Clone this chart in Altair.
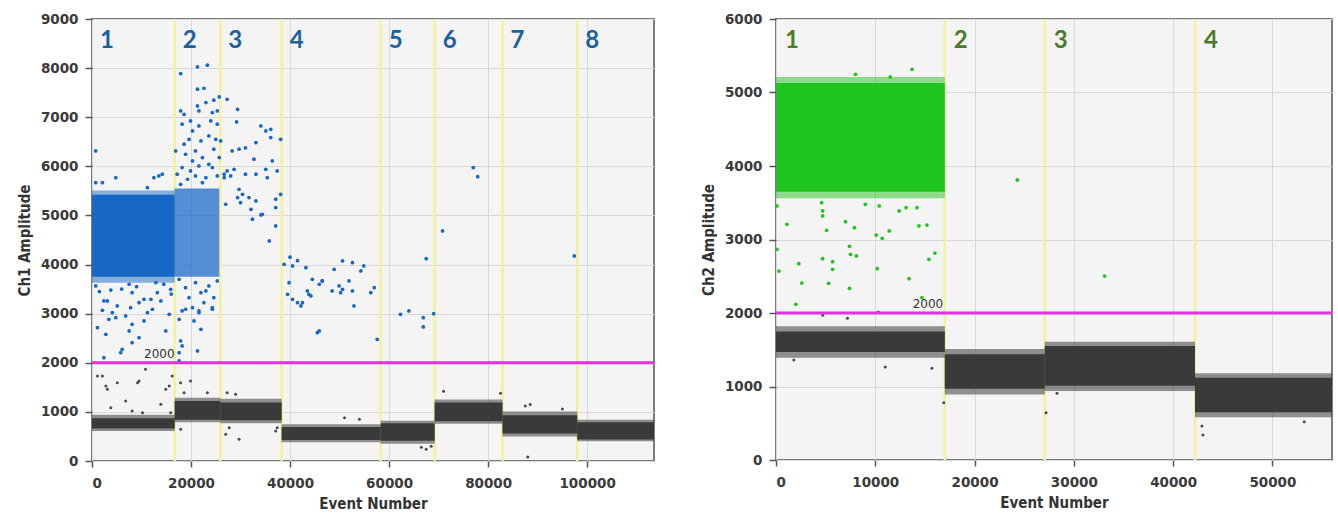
import altair as alt
import pandas as pd

# ---------------- Ch1 (left panel) ----------------
ch1_bounds = [0, 16700, 25900, 38300, 58300, 69200, 82900, 98000, 113500]
ch1_wells = ["1", "2", "3", "4", "5", "6", "7", "8"]
# negative (grey) droplet bands: dense core and ragged fringe (amplitude)
ch1_neg_lo = [660, 840, 830, 430, 410, 810, 560, 440]
ch1_neg_hi = [870, 1220, 1190, 690, 770, 1190, 930, 790]
ch1_neg_flo = [610, 790, 770, 380, 350, 760, 500, 400]
ch1_neg_fhi = [940, 1290, 1270, 750, 820, 1250, 1010, 840]
# positive (blue) dense clouds: solid cloud of well 1, looser cloud of well 2
ch1_solid_x0 = [0]
ch1_solid_x1 = [16700]
ch1_solid_lo = [3750]
ch1_solid_hi = [5420]
ch1_solid_flo = [3630]
ch1_solid_fhi = [5510]
ch1_loose_x0 = [16700]
ch1_loose_x1 = [25700]
ch1_loose_lo = [3750]
ch1_loose_hi = [5550]
# scattered blue droplets (event, amplitude)
ch1_blue_x = [
    750, 750, 2100, 4800, 12500, 13500, 14200, 11200,
    750, 2400, 2100, 3100, 4100, 5100, 3400, 2800, 7500, 8100, 7800, 8100, 9500, 10500,
    11200, 10500, 13200, 13900, 12900, 15900, 15600, 14900, 7500, 8100, 6100, 9500, 2400,
    1100, 5800, 11900, 4800, 6800, 12200, 1500, 6000, 9000, 14500, 16000, 3800,
    17900, 21300, 23300, 21300, 22600, 25700, 24600, 17900, 18600, 21300, 23000, 24300,
    25300, 21600, 18200, 19900, 21600, 24000, 25300, 20300, 22000, 23600, 25000, 19600,
    18600, 20900, 24600, 26000, 16900, 18900, 20300, 22300, 23600, 25700, 18200, 19900,
    21600, 24300, 17200, 19300, 20900, 23000, 25300, 17900, 22300,
    17600, 18900, 19600, 20900, 22000, 22600, 23600, 24600, 24300, 25300, 20300, 21600,
    18200, 17600, 18900, 20600, 22000, 17900, 18200, 21300, 17600, 17600, 21600, 24300, 23000,
    27300, 29400, 29200, 34100, 35100, 36100, 36100, 38100, 33100, 28300, 29700, 31000,
    32700, 36400, 27300, 28700, 31000, 33100, 35100, 35400, 37400, 26700, 28000, 29700,
    30400, 29400, 31700, 33100, 30000, 27000, 32100, 34400, 37100, 38100, 37100, 32400,
    34100, 37100, 35800, 26700,
    38800, 40500, 43200, 44500, 45900, 46500, 39500, 40500, 41500, 42200, 43500, 44200,
    45500, 39800, 42500, 43800, 46500, 48500, 48900, 49900, 50200, 50600, 51900, 52600,
    52900, 54300, 54900, 56300, 57000, 45900, 52600, 50600, 57600, 40000, 41500,
    62300, 64000, 66900, 66900, 69000, 70800, 67500, 77000, 77900, 97400,
]
ch1_blue_y = [
    6314, 5668, 5668, 5770, 5770, 5804, 5839, 5566,
    3564, 3259, 3069, 3259, 3020, 3157, 2886, 2580, 3599, 3428, 3122, 2784, 3224, 3293,
    3020, 2851, 3428, 3259, 3632, 3497, 2988, 2648, 2648, 2409, 2275, 2511, 2104,
    2715, 2206, 3293, 2919, 2953, 3090, 3450, 3500, 3550, 3600, 3400, 3480,
    7888, 8024, 8059, 7570, 7590, 7413, 7346, 7128, 7060, 7230, 7298, 7094,
    7128, 7128, 6857, 6925, 6823, 6925, 6857, 6721, 6517, 6619, 6551, 6551,
    6450, 6314, 6348, 6517, 6314, 6246, 6110, 6178, 6042, 6178, 5974, 5906,
    6008, 5974, 5839, 5737, 5804, 5770, 5804, 5635, 5668,
    3700, 3530, 3326, 3632, 3428, 3224, 3564, 3326, 3090, 3666, 3122, 3020,
    3055, 2886, 3090, 2851, 2682, 2444, 2342, 2240, 2206, 2037, 3055, 3122, 3462,
    7366, 7162, 6904, 6823, 6721, 6755, 6585, 6551, 6483, 6314, 6348, 6375,
    6145, 6110, 5906, 5940, 5839, 5839, 5940, 5770, 5906, 5770, 5804, 5533,
    5431, 5363, 5363, 5295, 5261, 5228, 5126, 5024, 5160, 5431, 5330, 4923,
    5010, 4786, 4481, 5839,
    4006, 3972, 3937, 3700, 3599, 3666, 3395, 3293, 3224, 3157, 3462, 3360,
    2613, 3632, 3224, 3395, 3666, 3462, 3904, 3564, 3428, 3497, 3666, 3462,
    3157, 3870, 3972, 3428, 3530, 2648, 4039, 4073, 2478, 4150, 4080,
    2988, 3055, 2919, 2729, 3000, 4684, 4120, 5974, 5790, 4175,
]
# scattered grey droplets (event, amplitude)
ch1_grey_x = [
    1100, 2100, 2800, 3100, 5100, 3800, 6800, 9200, 9500, 10800, 8100, 10200, 13900,
    14900, 15600, 16200, 15900, 17900, 19900, 18600, 23300, 27300, 29000, 27000, 29700,
    27700, 17900, 37400, 37100, 51000, 54000, 66500, 67500, 68500, 71000, 87500, 88000,
    95000, 82500, 88500,
]
ch1_grey_y = [
    1731, 1731, 1527, 1460, 1595, 1086, 1222, 1595, 1629, 1867, 1018, 984, 1155,
    1460, 1527, 1731, 984, 1595, 1629, 1391, 1391, 1391, 1358, 544, 442,
    678, 645, 678, 611, 880, 850, 280, 240, 300, 1420, 1120, 80,
    1060, 1380, 1150,
]
ch1_threshold = 2000
ch1_threshold_label_x = 13600

# ---------------- Ch2 (right panel) ----------------
ch2_bounds = [0, 17000, 27070, 42200, 56000]
ch2_wells = ["1", "2", "3", "4"]
ch2_neg_lo = [1470, 970, 1010, 650]
ch2_neg_hi = [1750, 1440, 1550, 1120]
ch2_neg_flo = [1390, 890, 940, 580]
ch2_neg_fhi = [1820, 1510, 1610, 1180]
ch2_solid_x0 = [0]
ch2_solid_x1 = [17000]
ch2_solid_lo = [3650]
ch2_solid_hi = [5130]
ch2_solid_flo = [3560]
ch2_solid_fhi = [5210]
ch2_green_x = [
    1100, 100, 4700, 4700, 5100, 7000, 7900, 100, 2300, 4700, 5700, 5700, 7400, 7500,
    8100, 2600, 5300, 7400, 2000, 10100, 10700, 11400, 10400, 12400, 13100, 14200, 14400,
    15200, 16000, 15400, 10200, 13400, 14700, 300, 4600, 9000, 8000, 13700, 11500,
    24300, 33100,
]
ch2_green_y = [
    3207, 3456, 3388, 3320, 3125, 3242, 3161, 2867, 2671, 2739, 2698, 2594, 2907, 2798,
    2776, 2408, 2404, 2336, 2118, 3061, 3016, 3116, 3456, 3388, 3433, 3433, 3184,
    3197, 2816, 2731, 2603, 2467, 2208, 2571, 3501, 3479, 5248, 5315, 5211,
    3810, 2503,
]
ch2_grey_x = [4700, 10300, 11000, 15700, 1800, 7200, 16900, 27200, 28300, 42900, 43000, 53200]
ch2_grey_y = [1969, 2014, 1265, 1248, 1361, 1928, 780, 644, 907, 463, 340, 521]
ch2_threshold = 2000
ch2_threshold_label_x = 15300

# ---------------- styling ----------------
BLUE = "#1767c6"
GREEN = "#1fc41f"
GREY = "#3a3a3a"
YELLOW = "#f4f19c"
MAGENTA = "#e030e0"


def panel(bounds, wells, neg, solid, loose, dots_pos, dots_neg, thr, thr_x, xmax, ymax,
          xstep, ystep, pos_color, label_color, ytitle, label_y, label_dx):
    xs = alt.Scale(domain=[0, xmax], nice=False, zero=False)
    ys = alt.Scale(domain=[0, ymax], nice=False, zero=False)
    xax = alt.Axis(values=list(range(0, xmax + 1, xstep)), format="d",
                   title="Event Number", tickSize=6, labelPadding=9, titlePadding=7)
    yax = alt.Axis(values=list(range(0, ymax + 1, ystep)), format="d",
                   title=ytitle, tickSize=7, labelPadding=7, titlePadding=8)

    def X(f):
        return alt.X(f"{f}:Q", scale=xs, axis=xax, title="Event Number")

    def Y(f):
        return alt.Y(f"{f}:Q", scale=ys, axis=yax, title=ytitle)

    well_df = pd.DataFrame({
        "x0": bounds[:-1], "x1": bounds[1:], "well": wells,
        "lo": neg[0], "hi": neg[1], "flo": neg[2], "fhi": neg[3],
        "ly": [label_y] * len(wells),
    })
    div_df = pd.DataFrame({"x": bounds[1:-1]})
    solid_df = pd.DataFrame({"x0": solid[0], "x1": solid[1], "lo": solid[2], "hi": solid[3],
                             "flo": solid[4], "fhi": solid[5]})
    pdots = pd.DataFrame({"x": dots_pos[0], "y": dots_pos[1]})
    ndots = pd.DataFrame({"x": dots_neg[0], "y": dots_neg[1]})
    thr_df = pd.DataFrame({"y": [thr], "x": [thr_x], "t": [str(thr)]})

    layers = [
        alt.Chart(div_df).mark_rule(color=YELLOW, strokeWidth=2.5).encode(x=X("x")),
        alt.Chart(well_df).mark_rect(color=GREY, opacity=0.55).encode(
            x=X("x0"), x2="x1", y=Y("flo"), y2="fhi"),
        alt.Chart(well_df).mark_rect(color=GREY, opacity=1).encode(
            x=X("x0"), x2="x1", y=Y("lo"), y2="hi"),
        alt.Chart(solid_df).mark_rect(color=pos_color, opacity=0.5).encode(
            x=X("x0"), x2="x1", y=Y("flo"), y2="fhi"),
        alt.Chart(solid_df).mark_rect(color=pos_color, opacity=1).encode(
            x=X("x0"), x2="x1", y=Y("lo"), y2="hi"),
    ]
    if loose is not None:
        loose_df = pd.DataFrame({"x0": loose[0], "x1": loose[1], "lo": loose[2], "hi": loose[3]})
        layers.append(alt.Chart(loose_df).mark_rect(color=pos_color, opacity=0.72).encode(
            x=X("x0"), x2="x1", y=Y("lo"), y2="hi"))
    layers += [
        alt.Chart(pdots).mark_circle(color=pos_color, size=14, opacity=1).encode(x=X("x"), y=Y("y")),
        alt.Chart(ndots).mark_circle(color="#4a4a4a", size=9, opacity=1).encode(x=X("x"), y=Y("y")),
        alt.Chart(thr_df).mark_rule(color=MAGENTA, strokeWidth=3).encode(y=Y("y")),
        alt.Chart(thr_df).mark_text(
            font="DejaVu Sans", fontSize=12, color="#333333", baseline="bottom", dy=-2
        ).encode(x=X("x"), y=Y("y"), text="t:N"),
        alt.Chart(well_df).mark_text(
            font="Lato", fontWeight="bold", fontSize=24, color=label_color, align="left",
            baseline="middle", dx=label_dx
        ).encode(x=X("x0"), y=Y("ly"), text="well:N"),
    ]
    return alt.layer(*layers)


left = panel(
    ch1_bounds, ch1_wells,
    (ch1_neg_lo, ch1_neg_hi, ch1_neg_flo, ch1_neg_fhi),
    (ch1_solid_x0, ch1_solid_x1, ch1_solid_lo, ch1_solid_hi, ch1_solid_flo, ch1_solid_fhi),
    (ch1_loose_x0, ch1_loose_x1, ch1_loose_lo, ch1_loose_hi),
    (ch1_blue_x, ch1_blue_y), (ch1_grey_x, ch1_grey_y),
    ch1_threshold, ch1_threshold_label_x, 113500, 9000, 20000, 1000,
    BLUE, "#1d5f9f", "Ch1 Amplitude", 8550, 8,
).properties(width=562, height=442)

right = panel(
    ch2_bounds, ch2_wells,
    (ch2_neg_lo, ch2_neg_hi, ch2_neg_flo, ch2_neg_fhi),
    (ch2_solid_x0, ch2_solid_x1, ch2_solid_lo, ch2_solid_hi, ch2_solid_flo, ch2_solid_fhi),
    None,
    (ch2_green_x, ch2_green_y), (ch2_grey_x, ch2_grey_y),
    ch2_threshold, ch2_threshold_label_x, 56000, 6000, 10000, 1000,
    GREEN, "#4b7a2b", "Ch2 Amplitude", 5700, 9,
).properties(width=556, height=441)

chart = alt.hconcat(left, right, spacing=43).properties(
    padding={"left": 16, "top": 11, "right": 0, "bottom": 0},
    background="white",
).configure_view(
    fill="#f4f4f4", stroke="#7b7b7b", strokeWidth=2
).configure_axis(
    domain=False, grid=True, gridColor="#d9d9d9", gridWidth=1,
    tickColor="#555555", tickWidth=1.5,
    labelFont="DejaVu Sans", labelFontWeight="bold", labelFontSize=13.5, labelColor="#3a3a3a",
    titleFont="DejaVu Sans Condensed", titleFontWeight="bold", titleFontSize=15, titleColor="#333333",
).configure_concat(spacing=43)

chart.save("out.html", embed_options={"renderer": "svg", "actions": False})
